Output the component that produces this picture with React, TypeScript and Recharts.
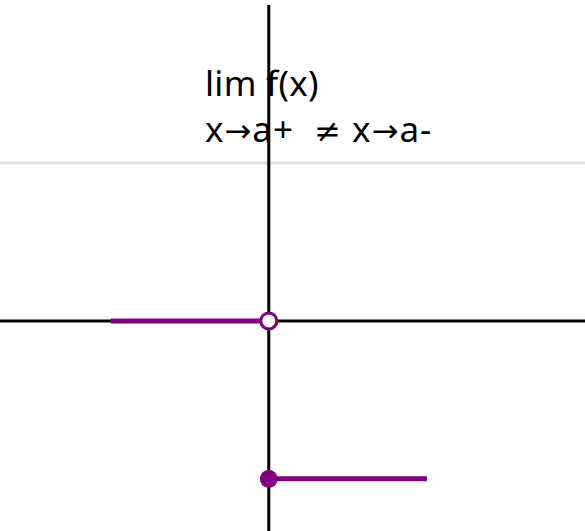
import { ComposedChart, Line, Scatter, XAxis, YAxis, ReferenceLine } from "recharts";

// 左側の線分 (x→a- で f=0)
const leftX = [-1, 0];
const leftY = [0, 0];
// 右側の線分 (x→a+ で f=-1)
const rightX = [0, 1];
const rightY = [-1, -1];
// 端点: 白抜き (a, 0) と塗りつぶし (a, -1)
const openPoint = [{ x: 0, y: 0 }];
const closedPoint = [{ x: 0, y: -1 }];
// 軸とガイドライン
const xDomain = [-1.7, 2];
const yDomain = [-1.33, 2];
const guideY = 1;

const leftData = leftX.map((x, i) => ({ x, y: leftY[i] }));
const rightData = rightX.map((x, i) => ({ x, y: rightY[i] }));
const xAxisLine = xDomain.map((x) => ({ x, y: 0 }));
const yAxisLine = yDomain.map((y) => ({ x: 0, y }));

const PURPLE = "#800080";

const OpenDot = (p: any) => (
  <circle cx={p.cx} cy={p.cy} r={8} fill="#fff" stroke={PURPLE} strokeWidth={3} />
);
const ClosedDot = (p: any) => <circle cx={p.cx} cy={p.cy} r={9} fill={PURPLE} />;

// 記号は矢印のあるフォントで
const Sym = ({ c }: { c: string }) => (
  <span style={{ fontFamily: "'DejaVu Sans', sans-serif", fontSize: 32 }}>{c}</span>
);

export default function App() {
  return (
    <div style={{ position: "absolute", left: 0, top: 0, width: 585, height: 531, background: "#fff" }}>
      {/* テキストは軸の下に置く */}
      <div
        style={{
          position: "absolute",
          left: 205,
          top: 60,
          fontFamily: "'Noto Sans', sans-serif",
          fontSize: 35,
          lineHeight: "46px",
          color: "#000",
          whiteSpace: "pre",
        }}
      >
        <div style={{ letterSpacing: 0.3 }}>lim f(x)</div>
        <div style={{ letterSpacing: 1 }}>
          x<Sym c="→" />a+  <Sym c="≠" /> x<Sym c="→" />a-
        </div>
      </div>
      <div style={{ position: "absolute", left: 0, top: 0 }}>
        <ComposedChart width={585} height={531} margin={{ top: 5, right: 0, bottom: 0, left: 0 }}>
          <XAxis type="number" dataKey="x" domain={xDomain} hide allowDataOverflow />
          <YAxis type="number" dataKey="y" domain={yDomain} hide allowDataOverflow />
          <ReferenceLine y={guideY} stroke="#e0e0e0" strokeWidth={3} />
          <Line data={xAxisLine} dataKey="y" stroke="#000" strokeWidth={3} dot={false} isAnimationActive={false} />
          <Line data={yAxisLine} dataKey="y" stroke="#000" strokeWidth={3} dot={false} isAnimationActive={false} />
          <Line data={leftData} dataKey="y" stroke={PURPLE} strokeWidth={5} dot={false} isAnimationActive={false} />
          <Line data={rightData} dataKey="y" stroke={PURPLE} strokeWidth={5} dot={false} isAnimationActive={false} />
          <Scatter data={openPoint} dataKey="y" shape={OpenDot} isAnimationActive={false} />
          <Scatter data={closedPoint} dataKey="y" shape={ClosedDot} isAnimationActive={false} />
        </ComposedChart>
      </div>
    </div>
  );
}
